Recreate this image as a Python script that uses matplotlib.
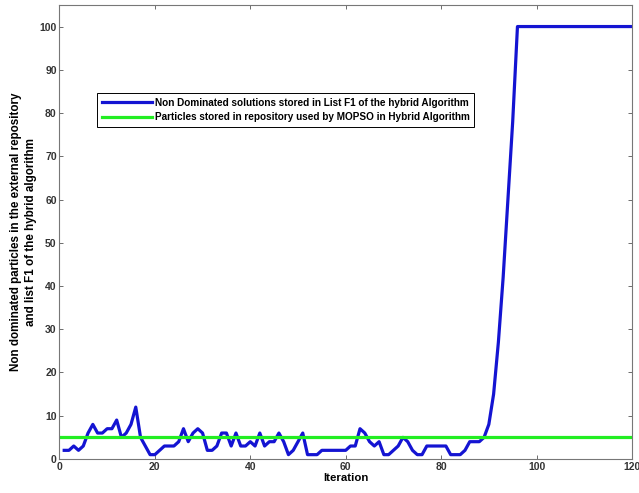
import numpy as np
import matplotlib
matplotlib.use('Agg')
import matplotlib.pyplot as plt

plt.rcParams['font.family'] = ['Liberation Sans', 'DejaVu Sans']

# iteration values
iteracion = list(range(1, 121))
f1_hybrid = [2, 2, 3, 2, 3, 6, 8, 6, 6, 7,
             7, 9, 5, 6, 8, 12, 5, 3, 1, 1,
             2, 3, 3, 3, 4, 7, 4, 6, 7, 6,
             2, 2, 3, 6, 6, 3, 6, 3, 3, 4,
             3, 6, 3, 4, 4, 6, 4, 1, 2, 4,
             6, 1, 1, 1, 2, 2, 2, 2, 2, 2,
             3, 3, 7, 6, 4, 3, 4, 1, 1, 2,
             3, 5, 4, 2, 1, 1, 3, 3, 3, 3,
             3, 1, 1, 1, 2, 4, 4, 4, 5, 8,
             15, 27, 42, 60, 78, 100] + [100] * 24
mopso_x = [0, 120]
mopso_rep = [5, 5]

fig = plt.figure(figsize=(6.39, 4.93), dpi=100)
ax = fig.add_axes([0.093, 0.069, 0.896, 0.921])

ax.plot(iteracion, f1_hybrid, color='#1414d2', lw=2.3,
        label='Non Dominated solutions stored in List F1 of the hybrid Algorithm')
ax.plot(mopso_x, mopso_rep, color='#22ee22', lw=2.3,
        label='Particles stored in repository used by MOPSO in Hybrid Algorithm')

ax.set_xlim(0, 120)
ax.set_ylim(0, 105)
ax.set_xticks(range(0, 121, 20))
ax.set_yticks(range(0, 101, 10))
ax.tick_params(direction='in', top=True, right=True, labelsize=7.5,
               length=3, width=0.6, color='#555555', pad=2)
for lab in ax.get_xticklabels() + ax.get_yticklabels():
    lab.set_fontweight('bold')
    lab.set_color('#333333')
for s in ax.spines.values():
    s.set_color('#777777')
    s.set_linewidth(0.8)

ax.set_xlabel('Iteration', fontsize=8.2, fontweight='bold', labelpad=1)
ax.set_ylabel('Non dominated particles in the external repository\nand list F1 of the hybrid algorithm',
              fontsize=8.4, fontweight='bold', labelpad=2, linespacing=1.25)

leg = ax.legend(loc='upper left', bbox_to_anchor=(0.066, 0.806),
                prop={'weight': 'bold', 'size': 7.2},
                fancybox=False, edgecolor='black', framealpha=1,
                handlelength=5.0, handletextpad=0.3, borderpad=0.45,
                labelspacing=0.45, borderaxespad=0)
leg.get_frame().set_linewidth(0.7)

fig.savefig('out.png', dpi=100)
